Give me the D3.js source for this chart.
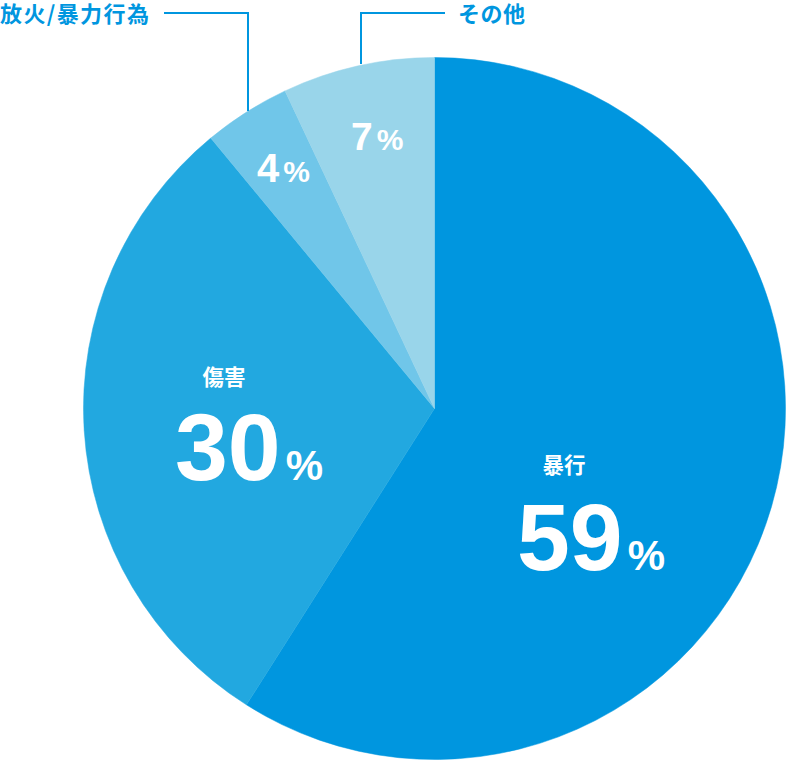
<!DOCTYPE html>
<html>
<head>
<meta charset="utf-8">
<script src="https://cdn.jsdelivr.net/npm/d3@7"></script>
<style>
  html, body { margin: 0; padding: 0; background: #ffffff; }
  svg { display: block; }
</style>
</head>
<body>
<svg id="chart" width="786" height="760"></svg>
<script>
// ---- data ----
const categories = ["暴行", "傷害", "放火/暴力行為", "その他"];
const values = [59, 30, 4, 7];
const colors = ["#0096df", "#22a8e0", "#70c6e9", "#99d5ea"];

const W = 786, H = 760;
const cx = 434.5, cy = 408.5, R = 351;

const svg = d3.select("#chart");
const g = svg.append("g").attr("transform", `translate(${cx},${cy})`);

const pie = d3.pie().sort(null).value(d => d.v)
  .startAngle(0).endAngle(2 * Math.PI);
const data = categories.map((c, i) => ({ c, v: values[i], col: colors[i] }));
const arcs = pie(data);
const arc = d3.arc().innerRadius(0).outerRadius(R);

g.selectAll("path.slice").data(arcs).enter().append("path")
  .attr("class", "slice")
  .attr("d", arc)
  .attr("fill", d => d.data.col)
  .attr("stroke", d => d.data.col)
  .attr("stroke-width", 0.5);

const numFont = "'Liberation Sans', Arial, Helvetica, sans-serif";
const cjkFont = "'Noto Sans CJK JP', 'Noto Sans', sans-serif";

const big = [
  { i: 0, x: 517, y: 570, ns: 95, ps: 42, nameX: 564, nameY: 473 },
  { i: 1, x: 175, y: 480, ns: 95, ps: 42, nameX: 224, nameY: 385 }
];
const small = [
  { i: 2, x: 257, y: 182, ns: 40, ps: 30 },
  { i: 3, x: 351, y: 150, ns: 39, ps: 30 }
];

function addNum(o, gap) {
  const t = svg.append("text")
    .attr("x", o.x).attr("y", o.y)
    .attr("fill", "#ffffff")
    .attr("font-family", numFont)
    .attr("font-weight", "bold");
  t.append("tspan").attr("font-size", o.ns).text(values[o.i]);
  t.append("tspan").attr("font-size", o.ps).attr("dx", gap).text("%");
}
big.forEach(o => {
  addNum(o, 5);
  svg.append("text")
    .attr("x", o.nameX).attr("y", o.nameY)
    .attr("text-anchor", "middle")
    .attr("fill", "#ffffff")
    .attr("font-family", cjkFont)
    .attr("font-weight", "bold")
    .attr("font-size", 21.5)
    .text(categories[o.i]);
});
small.forEach(o => addNum(o, 4));

// leader lines and outside labels
const lineCol = "#0096df";
const leaders = [
  { i: 2, pts: [[164, 13], [248, 13], [248, 111]], tx: 0, ls: 1.4 },
  { i: 3, pts: [[445, 13], [361, 13], [361, 64]], tx: 458, ls: 0.5 }
];
leaders.forEach(l => {
  svg.append("path")
    .attr("d", d3.line()(l.pts))
    .attr("fill", "none")
    .attr("stroke", lineCol)
    .attr("stroke-width", 2);
  svg.append("text")
    .attr("x", l.tx).attr("y", 22)
    .attr("fill", lineCol)
    .attr("font-family", cjkFont)
    .attr("font-weight", "bold")
    .attr("font-size", 22)
    .attr("letter-spacing", l.ls)
    .text(categories[l.i]);
});
</script>
</body>
</html>
